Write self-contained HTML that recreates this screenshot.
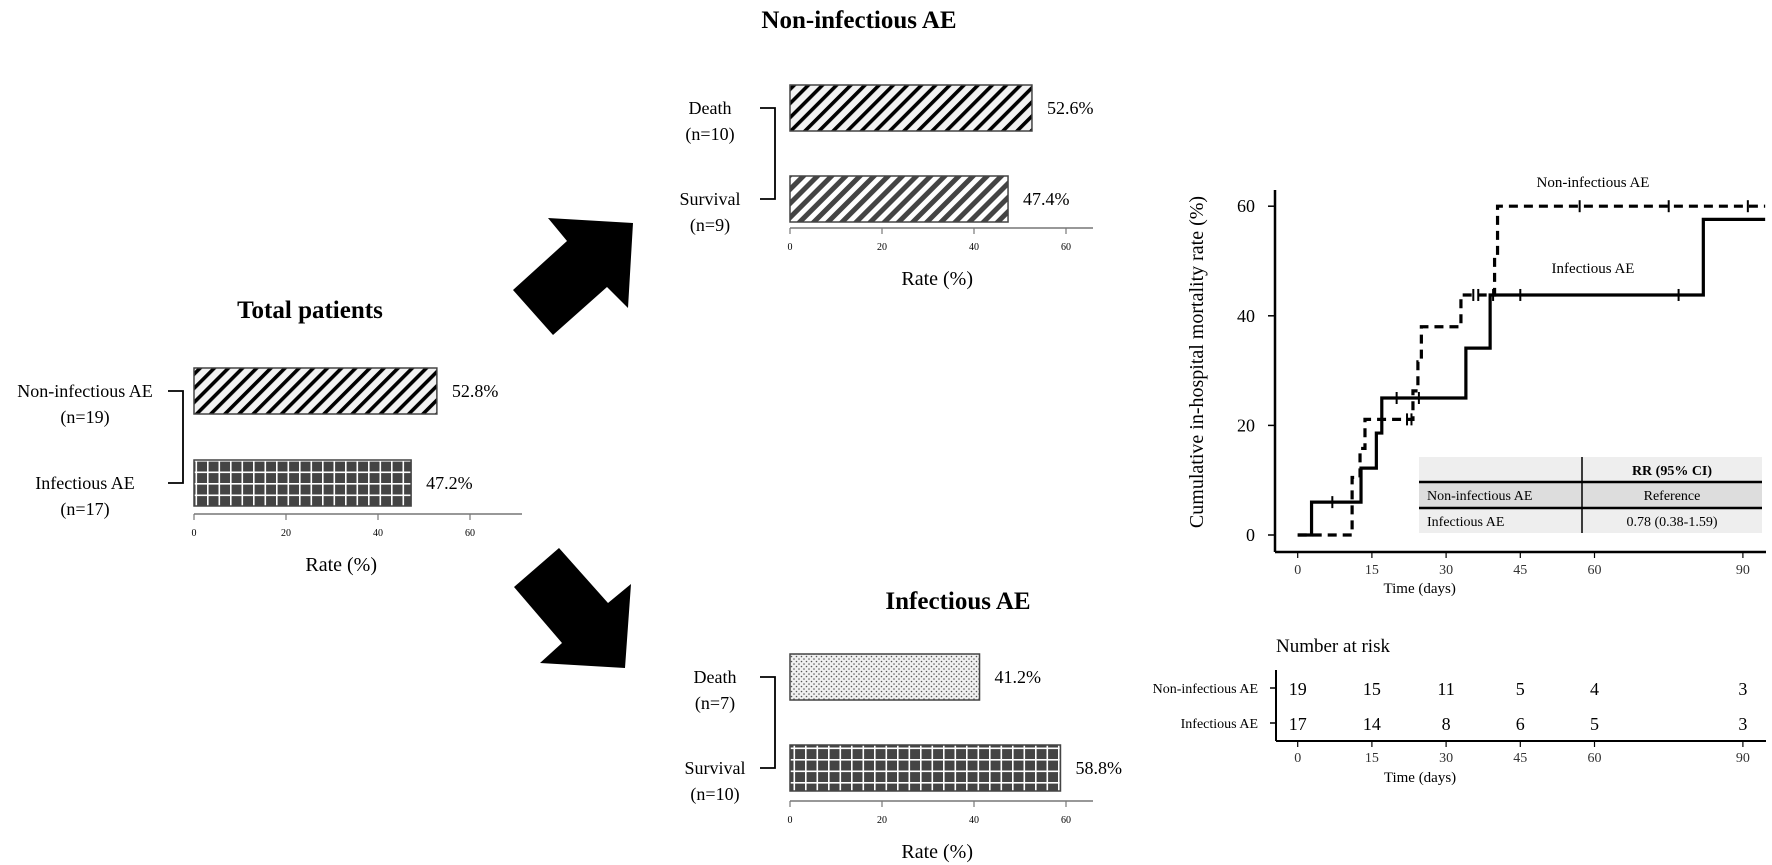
<!DOCTYPE html>
<html><head><meta charset="utf-8"><style>
html,body{margin:0;padding:0;background:#fff;}
svg{display:block;font-family:"Liberation Serif",serif;}
</style></head><body>
<svg id="root" width="1772" height="865" viewBox="0 0 1772 865" xmlns="http://www.w3.org/2000/svg">
<defs>
<pattern id="hatchLight" patternUnits="userSpaceOnUse" width="10" height="10" patternTransform="rotate(45)">
<rect width="10" height="10" fill="#f2f2f2"/><rect x="0" y="0" width="3.6" height="10" fill="#000"/></pattern>
<pattern id="hatchDark" patternUnits="userSpaceOnUse" width="10" height="10" patternTransform="rotate(45)">
<rect width="10" height="10" fill="#fff"/><rect x="0" y="0" width="5" height="10" fill="#444"/></pattern>
<pattern id="grid" patternUnits="userSpaceOnUse" width="11.5" height="11.5">
<rect width="11.5" height="11.5" fill="#444"/><rect x="0" y="0" width="1.6" height="11.5" fill="#fff"/><rect x="0" y="0" width="11.5" height="1.6" fill="#fff"/></pattern>
<pattern id="dots" patternUnits="userSpaceOnUse" width="5" height="5">
<rect width="5" height="5" fill="#f0f0f0"/><circle cx="1.5" cy="1.5" r="0.8" fill="#555"/><circle cx="4" cy="4" r="0.8" fill="#555"/></pattern>
</defs>

<!-- arrows -->
<polygon points="548,218 633,223 628,308 607,287 553,335 513,290 567,241" fill="#000"/>
<polygon points="559,548 608,603 631,584 625,668 540,663 562,643 514,587" fill="#000"/>

<g id="charts"></g>
</svg>
<script>
const NS="http://www.w3.org/2000/svg";
const root=document.getElementById('charts');
function mk(tag,attrs,parent,text){const e=document.createElementNS(NS,tag);for(const k in attrs)e.setAttribute(k,attrs[k]);if(text!==undefined)e.textContent=text;(parent||root).appendChild(e);return e;}

// ---- bar chart data ----
const totalCats=["Non-infectious AE","Infectious AE"];
const totalN=["(n=19)","(n=17)"];
const totalVals=[52.8,47.2];
const nonInfCats=["Death","Survival"];
const nonInfN=["(n=10)","(n=9)"];
const nonInfVals=[52.6,47.4];
const infCats=["Death","Survival"];
const infN=["(n=7)","(n=10)"];
const infVals=[41.2,58.8];
const barTicks=[0,20,40,60];

function barChart(cfg){
  const g=mk('g',{});
  
  
  const xs=v=>cfg.x0+v*4.6;
  const t=mk('text',{x:cfg.titleX,y:cfg.titleY,'text-anchor':'middle','font-size':25,'font-weight':'bold'},g,cfg.title);
  
  
  cfg.vals.forEach((v,i)=>{
    const y=cfg.barY[i];
    const r=mk('rect',{x:xs(0),y:y,width:xs(v)-xs(0),height:cfg.barH,fill:cfg.fills[i],stroke:'#444','stroke-width':1.5},g);
    
    
    const vl=mk('text',{x:xs(v)+15,y:y+cfg.barH/2+6,'font-size':18},g,v.toFixed(1)+'%');
    
    
    const cy=y+cfg.barH/2;
    const l1=mk('text',{x:cfg.labelX,y:cy+6,'text-anchor':'middle','font-size':18},g,cfg.cats[i]);
    
    
    const l2=mk('text',{x:cfg.labelX,y:cy+32,'text-anchor':'middle','font-size':18},g,cfg.ns[i]);
    
    
  });
  const y1=cfg.barY[0]+cfg.barH/2, y2=cfg.barY[1]+cfg.barH/2;
  const br=mk('path',{d:`M${cfg.brX-15},${y1} H${cfg.brX} V${y2} H${cfg.brX-15}`,fill:'none',stroke:'#000','stroke-width':1.8},g);
  
  
  const ax=mk('line',{x1:xs(0),x2:cfg.axEnd,y1:cfg.axY,y2:cfg.axY,stroke:'#777','stroke-width':1.5},g);
  
  
  barTicks.forEach(tv=>{
    mk('line',{x1:xs(tv),x2:xs(tv),y1:cfg.axY,y2:cfg.axY+6,stroke:'#777','stroke-width':1.2},g);
    const tl=mk('text',{x:xs(tv),y:cfg.axY+22,'text-anchor':'middle','font-size':10},g,String(tv));
    
    
  });
  const xt=mk('text',{x:xs(32),y:cfg.axY+57,'text-anchor':'middle','font-size':20},g,'Rate (%)');
  
  
}
barChart({name:'total-patients-chart',title:'Total patients',titleX:310,titleY:318,x0:194,cats:totalCats,ns:totalN,vals:totalVals,barY:[368,460],barH:46,fills:['url(#hatchLight)','url(#grid)'],labelX:85,brX:183,axY:514,axEnd:522});
barChart({name:'non-infectious-chart',title:'Non-infectious AE',titleX:859,titleY:28,x0:790,cats:nonInfCats,ns:nonInfN,vals:nonInfVals,barY:[85,176],barH:46,fills:['url(#hatchLight)','url(#hatchDark)'],labelX:710,brX:775,axY:228,axEnd:1093});
barChart({name:'infectious-chart',title:'Infectious AE',titleX:958,titleY:609,x0:790,cats:infCats,ns:infN,vals:infVals,barY:[654,745],barH:46,fills:['url(#dots)','url(#grid)'],labelX:715,brX:775,axY:801,axEnd:1093});

// ---- KM data ----
const nonInfTimes=[0,11,12.6,13.6,23.3,24.3,25,33,39.8,40.4];
const nonInfRates=[0,10.5,15.8,21.1,26.3,31.6,38,43.8,51,60];
const nonInfEnd=94.5;
const nonInfCensorT=[22.1,23,35.5,36.5,57,75,91];
const nonInfCensorR=[21.1,21.1,43.8,43.8,60,60,60];
const infTimes=[0,2.8,12.8,15.9,17,34,38.9,82];
const infRates=[0,6,12.2,18.6,25,34.1,43.8,57.6];
const infEnd=94.5;
const infCensorT=[7,20,24.5,39.5,45,77];
const infCensorR=[6,25,25,43.8,43.8,43.8];
const kmYTicks=[0,20,40,60];
const kmXTicks=[0,15,30,45,60,90];
const riskNon=[19,15,11,5,4,3];
const riskInf=[17,14,8,6,5,3];

const X=t=>1297.7+t*74.2/15;
const Y=r=>535-r*5.48;
const km=mk('g',{});


const yax=mk('line',{x1:1275,x2:1275,y1:190,y2:552,stroke:'#000','stroke-width':2.5},km);


const xax=mk('line',{x1:1275,x2:1766,y1:552,y2:552,stroke:'#000','stroke-width':2.5},km);


kmYTicks.forEach(v=>{
  mk('line',{x1:1268,x2:1275,y1:Y(v),y2:Y(v),stroke:'#000','stroke-width':1.5},km);
  const tl=mk('text',{x:1255,y:Y(v)+6,'text-anchor':'end','font-size':18},km,String(v));
  
  
});
kmXTicks.forEach(v=>{
  mk('line',{x1:X(v),x2:X(v),y1:552,y2:558,stroke:'#000','stroke-width':1.2},km);
  const tl=mk('text',{x:X(v),y:574,'text-anchor':'middle','font-size':14,fill:'#333'},km,String(v));
  
  
});
const xtt=mk('text',{x:1335+X(0)-1298+85,y:593,'text-anchor':'middle','font-size':15},km,'Time (days)');


const ytt=mk('text',{x:0,y:0,transform:'translate(1203,362) rotate(-90)','text-anchor':'middle','font-size':20},km,'Cumulative in-hospital mortality rate (%)');



function stepPath(ts,rs,end){let d=`M${X(ts[0])},${Y(rs[0])}`;for(let i=1;i<ts.length;i++){d+=` H${X(ts[i])} V${Y(rs[i])}`;}d+=` H${X(end)}`;return d;}
const pNon=mk('path',{d:stepPath(nonInfTimes,nonInfRates,nonInfEnd),fill:'none',stroke:'#000','stroke-width':3.2,'stroke-dasharray':'9,6'},km);


const pInf=mk('path',{d:stepPath(infTimes,infRates,infEnd),fill:'none',stroke:'#000','stroke-width':3.2},km);


function censors(ts,rs,nm){ts.forEach((t,i)=>{const c=mk('path',{d:`M${X(t)},${Y(rs[i])-6} V${Y(rs[i])+6}`,stroke:'#000','stroke-width':2},km);});}
censors(nonInfCensorT,nonInfCensorR,'non-infectious-censor-mark');
censors(infCensorT,infCensorR,'infectious-censor-mark');
const lab1=mk('text',{x:1593,y:187,'text-anchor':'middle','font-size':15},km,'Non-infectious AE');


const lab2=mk('text',{x:1593,y:273,'text-anchor':'middle','font-size':15},km,'Infectious AE');



// RR table
const tb=mk('g',{},km);


mk('rect',{x:1419,y:457,width:343,height:25,fill:'#eee'},tb);
mk('rect',{x:1419,y:482,width:343,height:26,fill:'#ddd'},tb);
mk('rect',{x:1419,y:508,width:343,height:25,fill:'#eee'},tb);
mk('line',{x1:1419,x2:1762,y1:482,y2:482,stroke:'#000','stroke-width':2.5},tb);
mk('line',{x1:1419,x2:1762,y1:508,y2:508,stroke:'#000','stroke-width':2.5},tb);
mk('line',{x1:1582,x2:1582,y1:457,y2:533,stroke:'#000','stroke-width':1.5},tb);
mk('text',{x:1672,y:475,'text-anchor':'middle','font-size':14,'font-weight':'bold'},tb,'RR (95% CI)');
mk('text',{x:1427,y:500,'font-size':14},tb,'Non-infectious AE');
mk('text',{x:1672,y:500,'text-anchor':'middle','font-size':14},tb,'Reference');
mk('text',{x:1427,y:526,'font-size':14},tb,'Infectious AE');
mk('text',{x:1672,y:526,'text-anchor':'middle','font-size':14},tb,'0.78 (0.38-1.59)');

// Number at risk
const rk=mk('g',{});


const rt=mk('text',{x:1276,y:652,'font-size':19},rk,'Number at risk');


mk('line',{x1:1276,x2:1276,y1:670,y2:741,stroke:'#000','stroke-width':2},rk);
mk('line',{x1:1276,x2:1766,y1:741,y2:741,stroke:'#000','stroke-width':2},rk);
mk('line',{x1:1270,x2:1276,y1:688,y2:688,stroke:'#000','stroke-width':1.5},rk);
mk('line',{x1:1270,x2:1276,y1:723,y2:723,stroke:'#000','stroke-width':1.5},rk);
const rl1=mk('text',{x:1258,y:693,'text-anchor':'end','font-size':14},rk,'Non-infectious AE');


const rl2=mk('text',{x:1258,y:728,'text-anchor':'end','font-size':14},rk,'Infectious AE');


kmXTicks.forEach((t,i)=>{
  const a=mk('text',{x:X(t),y:695,'text-anchor':'middle','font-size':18},rk,String(riskNon[i]));
  
  
  const b=mk('text',{x:X(t),y:730,'text-anchor':'middle','font-size':18},rk,String(riskInf[i]));
  
  
  mk('line',{x1:X(t),x2:X(t),y1:741,y2:747,stroke:'#000','stroke-width':1.2},rk);
  const tl=mk('text',{x:X(t),y:762,'text-anchor':'middle','font-size':14,fill:'#333'},rk,String(t));
  
  
});
const rtt=mk('text',{x:1420,y:782,'text-anchor':'middle','font-size':15},rk,'Time (days)');


</script>
</body></html>
